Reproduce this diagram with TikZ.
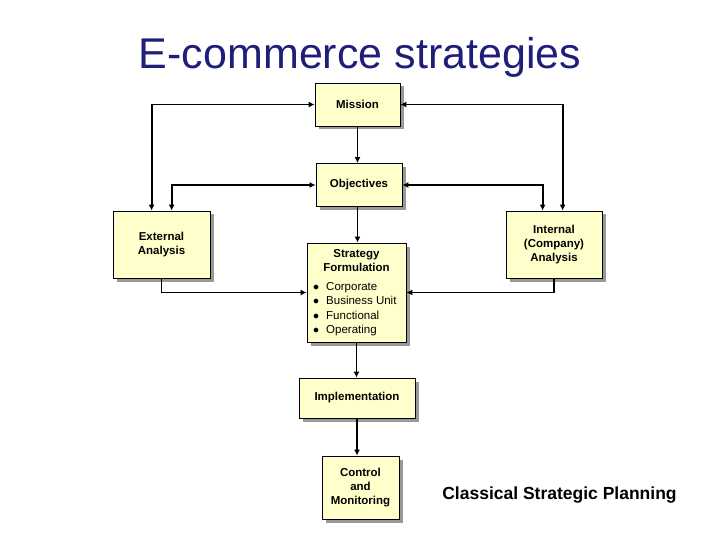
\documentclass[tikz,border=0pt]{standalone}
\usepackage{fontspec}
\setmainfont{Liberation Sans}
\usetikzlibrary{shadows,arrows.meta}
\definecolor{boxfill}{HTML}{FFFFCC}
\definecolor{titleblue}{HTML}{1F1F7A}
\tikzset{
  box/.style={draw=black, line width=0.8pt, fill=boxfill, inner sep=2pt,
    font=\fontsize{11.5}{14}\selectfont\bfseries, align=center,
    drop shadow={shadow xshift=3.5pt, shadow yshift=-3.5pt, fill=gray!80, opacity=1}},
  conn/.style={line width=1.8pt, -{Latex[length=6pt,width=6pt]}},
  bconn/.style={line width=1.8pt, {Latex[length=6pt,width=6pt]}-{Latex[length=6pt,width=6pt]}},
}
\begin{document}
\begin{tikzpicture}[x=1pt,y=-1pt]
\useasboundingbox (0,0) rectangle (720,540);
\node[font=\fontsize{43}{48}\selectfont, text=titleblue] (title) at (360,57) {E-commerce strategies};
\node[box, minimum width=85, minimum height=43] (mission) at (357.5,104.5) {Mission};
\node[box, minimum width=86, minimum height=43] (obj) at (359,185) {Objectives};
\node[box, minimum width=97, minimum height=67] (ext) at (161.5,244.5) {External\\Analysis};
\node[box, minimum width=96, minimum height=67] (int) at (554,244.5) {Internal\\(Company)\\Analysis};
\node[box, minimum width=99, minimum height=99] (strat) at (356.5,292.5) {};
\node[font=\fontsize{11.5}{14}\selectfont\bfseries, align=center] (stratT) at (356.5,261) {Strategy\\Formulation};
\node[font=\fontsize{11.5}{14.5}\selectfont, align=left, anchor=north west, inner sep=0pt] (stratL) at (313,282)
  {$\bullet$\hspace{7pt}Corporate\\ $\bullet$\hspace{7pt}Business Unit\\ $\bullet$\hspace{7pt}Functional\\ $\bullet$\hspace{7pt}Operating};
\node[box, minimum width=116, minimum height=40] (impl) at (357,398) {Implementation};
\node[box, minimum width=77, minimum height=63] (ctrl) at (360.5,487.5) {Control\\and\\Monitoring};
\node[font=\fontsize{17.5}{20}\selectfont\bfseries] (cls) at (559.5,495) {Classical Strategic Planning};
\draw[conn] (mission.south) -- (mission.south |- obj.north);
\draw[conn] (obj.south -| mission.south) -- (mission.south |- strat.north);
\draw[conn] (strat.south) -- (strat.south |- impl.north);
\draw[conn] (impl.south) -- (impl.south |- ctrl.north);
\draw[bconn] (mission.west) -| ([xshift=39pt]ext.north west);
\draw[bconn] (obj.west) -| ([xshift=59pt]ext.north west);
\draw[bconn] (mission.east) -| ([xshift=57pt]int.north west);
\draw[bconn] (obj.east) -| ([xshift=37pt]int.north west);
\draw[conn] (ext.south) |- (strat.west);
\draw[conn] (int.south) |- (strat.east);
\end{tikzpicture}
\end{document}
